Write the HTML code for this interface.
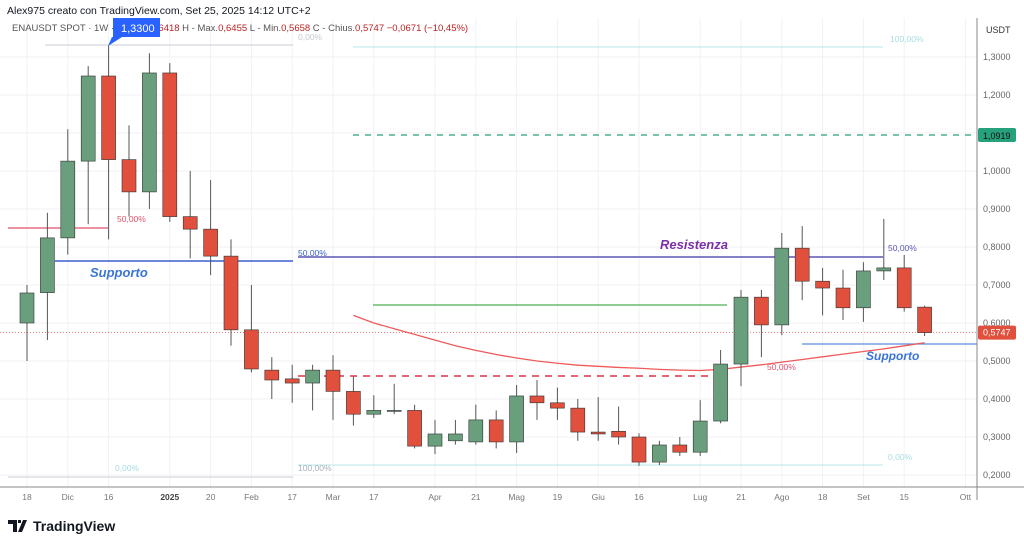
<!DOCTYPE html>
<html><head><meta charset="utf-8"><style>
body{margin:0;background:#fff;font-family:"Liberation Sans",sans-serif;}
#wrap{position:relative;width:1024px;height:546px;overflow:hidden;}
svg text{font-family:"Liberation Sans",sans-serif;}
</style></head><body>
<div id="wrap">
<svg id="chart" width="1024" height="546"></svg>
</div>
<script>
const opens =[0.60,0.68,0.824,1.026,1.25,1.03,0.945,1.258,0.88,0.847,0.776,0.582,0.476,0.453,0.442,0.476,0.42,0.36,0.37,0.37,0.276,0.29,0.287,0.345,0.287,0.408,0.39,0.376,0.313,0.315,0.30,0.234,0.279,0.26,0.342,0.492,0.668,0.595,0.797,0.71,0.692,0.64,0.737,0.745,0.6418];
const highs =[0.70,0.89,1.11,1.276,1.33,1.12,1.31,1.284,1.00,0.976,0.82,0.70,0.51,0.49,0.49,0.515,0.46,0.41,0.44,0.385,0.345,0.345,0.385,0.37,0.437,0.45,0.43,0.40,0.405,0.38,0.31,0.29,0.30,0.397,0.529,0.687,0.687,0.837,0.855,0.745,0.74,0.76,0.874,0.779,0.6455];
const lows  =[0.50,0.555,0.78,0.86,0.82,0.88,0.90,0.866,0.77,0.726,0.54,0.47,0.40,0.39,0.37,0.345,0.33,0.35,0.36,0.27,0.255,0.28,0.28,0.27,0.258,0.345,0.345,0.29,0.29,0.28,0.224,0.226,0.25,0.25,0.336,0.434,0.51,0.568,0.66,0.62,0.608,0.603,0.713,0.63,0.5658];
const closes=[0.679,0.824,1.026,1.25,1.03,0.945,1.258,0.88,0.847,0.776,0.582,0.479,0.45,0.442,0.476,0.42,0.36,0.37,0.37,0.276,0.308,0.308,0.345,0.287,0.408,0.39,0.376,0.313,0.308,0.30,0.234,0.279,0.26,0.342,0.492,0.668,0.595,0.797,0.71,0.692,0.64,0.737,0.745,0.64,0.5747];
const yTicks=[0.2,0.3,0.4,0.5,0.6,0.7,0.8,0.9,1.0,1.1,1.2,1.3];
const xLabels=["18","Dic","16","2025","20","Feb","17","Mar","17","Apr","21","Mag","19","Giu","16","Lug","21","Ago","18","Set","15","Ott"];
const xLabelIdx=[0,2,4,7,9,11,13,15,17,20,22,24,26,28,30,33,35,37,39,41,43,46];
const maVals=[0.62,0.60,0.585,0.57,0.555,0.54,0.528,0.517,0.508,0.50,0.494,0.489,0.486,0.483,0.481,0.478,0.476,0.475,0.478,0.484,0.49,0.497,0.504,0.511,0.518,0.525,0.532,0.54,0.548];
const maStart=16;

const NS="http://www.w3.org/2000/svg";
const svg=document.getElementById('chart');
const X=i=>27+i*20.4;
const Y=v=>57+(1.3-v)*380;
function mk(tag,attrs,parent){const e=document.createElementNS(NS,tag);for(const k in attrs)e.setAttribute(k,attrs[k]);(parent||svg).appendChild(e);return e;}
function txt(s,x,y,attrs){const t=mk('text',Object.assign({x:x,y:y},attrs));t.textContent=s;return t;}

const grid=mk('g',{});


yTicks.forEach(v=>{mk('line',{x1:0,x2:977,y1:Y(v),y2:Y(v),stroke:'#f0f2f5','stroke-width':1},grid);});
xLabelIdx.forEach(i=>{mk('line',{x1:X(i),x2:X(i),y1:18,y2:487,stroke:'#f0f2f5','stroke-width':1},grid);});

const h=txt('Alex975 creato con TradingView.com, Set 25, 2025 14:12 UTC+2',7,14,{'font-size':10.5,fill:'#131722'});


const leg=mk('text',{x:12,y:31,'font-size':9.5,fill:'#555'});


leg.innerHTML='ENAUSDT SPOT · 1W · Bybit  O <tspan fill="#b22">0,6418</tspan>  H - Max.<tspan fill="#b22">0,6455</tspan>  L - Min.<tspan fill="#b22">0,5658</tspan>  C - Chius.<tspan fill="#b22">0,5747  −0,0671 (−10,45%)</tspan>';

function hl(name,x1,x2,y,color,w,dash){const l=mk('line',{x1:x1,x2:x2,y1:y,y2:y,stroke:color,'stroke-width':w||1.5});if(dash)l.setAttribute('stroke-dasharray',dash);return l;}
hl('fib-top-left',45,293,45,'#c8ccd4',1);
hl('fib-top-right',353,883,47,'#b8e6ea',1);
hl('fib-bottom-left',8,293,477,'#c8ccd4',1);
hl('fib-bottom-right',298,883,465,'#b8e6ea',1);
hl('fib-50-left',8,108,228,'#e0506a',1.3);
hl('support-line-left',55,293,261,'#3a5fcd',1.5);
hl('resistance-line',298,883,257,'#5b57b5',1.5);
hl('green-level',373,727,305,'#4caf50',1.3);
hl('fib-50-dashed',298,720,376,'#e05060',1.8,'7,6');
hl('target-dashed',353,977,135,'#26a17b',1.2,'6,6');
hl('support-line-right',802,977,344,'#5b8ddf',1.3);
hl('price-line',0,977,Y(0.5747),'#ef5350',0.8,'1,2');
function lbl(name,s,x,y,color,size,extra){const t=txt(s,x,y,Object.assign({'font-size':size||8.5,fill:color},extra||{}));return t;}
lbl('fib-label-0-top','0,00%',298,40,'#c5cad2');
lbl('fib-label-100-top','100,00%',890,42,'#a8dde2');
lbl('fib-label-50-left','50,00%',117,222,'#e0506a');
lbl('fib-label-50-mid','50,00%',298,256,'#3a5fcd');
lbl('fib-label-50-right','50,00%',888,251,'#5b57b5');
lbl('fib-label-50-red','50,00%',767,370,'#e05070');
lbl('fib-label-0-bottom','0,00%',115,471,'#a8dde2');
lbl('fib-label-100-bottom','100,00%',298,471,'#a8b0bc');
lbl('fib-label-0-right','0,00%',888,460,'#a8dde2');
lbl('support-label-left','Supporto',90,277,'#3a75d8',13,{'font-style':'italic','font-weight':'bold'});
lbl('resistance-label','Resistenza',660,249,'#7b2fa8',13,{'font-style':'italic','font-weight':'bold'});
lbl('support-label-right','Supporto',866,360,'#3a75d8',12,{'font-style':'italic','font-weight':'bold'});

let d='';maVals.forEach((v,k)=>{d+=(k?'L':'M')+X(maStart+k)+','+Y(v);});
const ma=mk('path',{d:d,fill:'none',stroke:'#ef5a5a','stroke-width':1.3});



const cg=mk('g',{});


opens.forEach((o,i)=>{
 const c=closes[i],up=c>=o,col=up?'#6a9f7e':'#e0503c',x=X(i);
 const g=mk('g',{},cg);
 
 
 mk('line',{x1:x,x2:x,y1:Y(highs[i]),y2:Y(lows[i]),stroke:'#555','stroke-width':1},g);
 const t=Y(Math.max(o,c)),b=Y(Math.min(o,c));
 mk('rect',{x:x-7,y:t,width:14,height:Math.max(1,b-t),fill:col,stroke:'#333','stroke-width':0.6},g);
});

const tip=mk('g',{});


mk('path',{d:'M113,18 h47 v19 h-38 l-14,9 l4,-9 h1 z',fill:'#2962ff'},tip);
txt('1,3300',121,32,{'font-size':11,fill:'#fff'},tip);

mk('line',{x1:977,x2:977,y1:18,y2:500,stroke:'#888','stroke-width':1});
const ax=mk('g',{});


txt('USDT',986,33,{'font-size':9,fill:'#333'});
yTicks.forEach(v=>{const t=txt(v.toFixed(4).replace('.',','),983,Y(v)+3,{'font-size':9,fill:'#666'});ax.appendChild(t);});
const gt=mk('g',{});


mk('rect',{x:978,y:128,width:38,height:14,fill:'#26a17b',rx:2},gt);
txt('1,0919',983,139,{'font-size':9,fill:'#111'},gt);
const rt=mk('g',{});


mk('rect',{x:978,y:Y(0.5747)-7,width:38,height:14,fill:'#e0503c',rx:2},rt);
txt('0,5747',983,Y(0.5747)+3,{'font-size':9,fill:'#fff'},rt);

mk('line',{x1:0,x2:1024,y1:487,y2:487,stroke:'#888','stroke-width':1});
const xa=mk('g',{});


xLabels.forEach((s,k)=>{const t=txt(s,X(xLabelIdx[k]),500,{'font-size':8.5,fill:s==='2025'?'#444':'#777','text-anchor':'middle','font-weight':s==='2025'?'bold':'normal'});xa.appendChild(t);});

const lg=mk('g',{});


mk('path',{d:'M8,520 h9 v12 h-4 v-8 h-5 z M18,520 h3 v3 h-3 z M23,520 h4 l-5,12 h-4 z',fill:'#131722'},lg);
txt('TradingView',33,531,{'font-size':14,fill:'#131722','font-weight':'bold'},lg);
</script>
</body></html>
